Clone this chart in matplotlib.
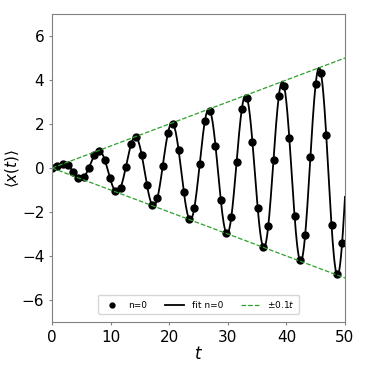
import numpy as np
import matplotlib
matplotlib.use('Agg')
import matplotlib.pyplot as plt

# sampled expectation values, n=0
t_data = [0.0, 0.9, 1.8, 2.7, 3.6, 4.5, 5.4, 6.3, 7.2, 8.1,
          9.0, 9.9, 10.8, 11.7, 12.6, 13.5, 14.4, 15.3, 16.2, 17.1,
          18.0, 18.9, 19.8, 20.7, 21.6, 22.5, 23.4, 24.3, 25.2, 26.1,
          27.0, 27.9, 28.8, 29.7, 30.6, 31.5, 32.4, 33.3, 34.2, 35.1,
          36.0, 36.9, 37.8, 38.7, 39.6, 40.5, 41.4, 42.3, 43.2, 44.1,
          45.0, 45.9, 46.8, 47.7, 48.6, 49.5]
x_data = [0.00, 0.07, 0.18, 0.12, -0.16, -0.44, -0.42, 0.01, 0.57, 0.79,
          0.37, -0.45, -1.06, -0.89, 0.04, 1.09, 1.39, 0.61, -0.77, -1.68,
          -1.35, 0.10, 1.61, 1.99, 0.82, -1.10, -2.31, -1.80, 0.17, 2.15,
          2.58, 1.02, -1.45, -2.94, -2.23, 0.26, 2.70, 3.17, 1.19, -1.81,
          -3.57, -2.64, 0.38, 3.26, 3.75, 1.35, -2.19, -4.20, -3.04, 0.52,
          3.83, 4.32, 1.49, -2.60, -4.84, -3.43]

# envelope
env_rate = 0.1
t_env = [0, 50]

t_arr = np.array(t_data)
x_arr = np.array(x_data)

# fit x = t*(a sin(w t) + b cos(w t)), scan w, least squares for a, b
best = None
for w in np.linspace(0.9, 1.1, 2001):
    A = np.column_stack([t_arr * np.sin(w * t_arr), t_arr * np.cos(w * t_arr)])
    coef, res, _, _ = np.linalg.lstsq(A, x_arr, rcond=None)
    err = np.sum((A @ coef - x_arr) ** 2)
    if best is None or err < best[0]:
        best = (err, w, coef)
_, w_fit, (a_fit, b_fit) = best
t_fine = np.linspace(0, 50, 1000)
x_fit = t_fine * (a_fit * np.sin(w_fit * t_fine) + b_fit * np.cos(w_fit * t_fine))

fig = plt.figure(figsize=(3.68, 3.68), dpi=100)
ax = fig.add_axes([52 / 368, 1 - 322 / 368, 293 / 368, 308 / 368])

ax.plot(t_data, x_data, 'o', color='black', markersize=5, label='n=0')
ax.plot(t_fine, x_fit, '-', color='black', linewidth=1.3, label='fit n=0')
env = env_rate * np.array(t_env)
ax.plot(t_env, env, '--', color='#2ca02c', linewidth=0.9, label=r'$\pm0.1t$')
ax.plot(t_env, -env, '--', color='#2ca02c', linewidth=0.9)

ax.set_xlim(0, 50)
ax.set_ylim(-7, 7)
ax.set_yticks([-6, -4, -2, 0, 2, 4, 6])
ax.set_xticks([0, 10, 20, 30, 40, 50])
ax.tick_params(labelsize=11, color='#808080', length=2)
for s in ax.spines.values():
    s.set_color('#808080')
ax.set_xlabel(r'$t$', fontsize=12, labelpad=0)
ax.set_ylabel(r'$\langle x(t)\rangle$', fontsize=11)
ax.yaxis.set_label_coords(-0.105, 0.5)

ax.legend(loc='lower center', ncol=3, fontsize=6.5, handlelength=2.1,
          columnspacing=2.0, borderpad=0.45, markerscale=0.7,
          bbox_to_anchor=(0.5, 0.012))

fig.savefig('out.png')
